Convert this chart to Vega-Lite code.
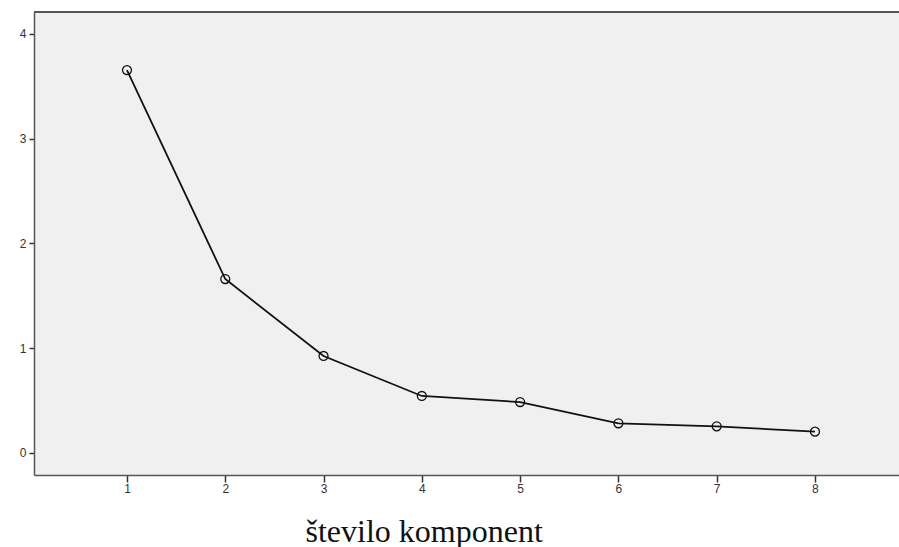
{
  "$schema": "https://vega.github.io/schema/vega-lite/v6.json",
  "width": 865,
  "height": 463,
  "autosize": {"type": "none"},
  "padding": {"left": 34, "top": 12, "right": 0, "bottom": 72},
  "background": "white",
  "config": {
    "view": {"fill": "#f0f0f0", "stroke": null},
    "axis": {
      "grid": false,
      "domainColor": "#555555",
      "domainWidth": 1.5,
      "tickColor": "#333333",
      "tickWidth": 1.5,
      "labelFont": "Liberation Sans",
      "labelFontSize": 12,
      "labelColor": "#333333"
    }
  },
  "data": {
    "values": [
      {"komponenta": 1, "vrednost": 3.655},
      {"komponenta": 2, "vrednost": 1.659},
      {"komponenta": 3, "vrednost": 0.924},
      {"komponenta": 4, "vrednost": 0.542},
      {"komponenta": 5, "vrednost": 0.484},
      {"komponenta": 6, "vrednost": 0.281},
      {"komponenta": 7, "vrednost": 0.252},
      {"komponenta": 8, "vrednost": 0.201}
    ]
  },
  "layer": [
    {
      "mark": {"type": "line", "color": "#111111", "strokeWidth": 1.8},
      "encoding": {
        "x": {
          "field": "komponenta", "type": "quantitative",
          "scale": {"domain": [0.054, 8.855], "nice": false, "zero": false},
          "axis": {
            "values": [1, 2, 3, 4, 5, 6, 7, 8],
            "format": "d",
            "tickSize": 7,
            "labelPadding": 1,
            "title": "število komponent",
            "titleFont": "Liberation Serif",
            "titleFontSize": 32,
            "titleFontWeight": "normal",
            "titleColor": "#111111",
            "titlePadding": 22,
            "titleAnchor": "start",
            "titleX": 271
          }
        },
        "y": {
          "field": "vrednost", "type": "quantitative",
          "scale": {"domain": [-0.213, 4.21], "nice": false, "zero": false},
          "axis": {
            "values": [0, 1, 2, 3, 4],
            "format": "d",
            "tickSize": 5,
            "labelPadding": 3,
            "title": null
          }
        }
      }
    },
    {
      "mark": {"type": "point", "shape": "circle", "filled": false, "color": "#111111", "size": 80, "strokeWidth": 1.3, "opacity": 1},
      "encoding": {
        "x": {"field": "komponenta", "type": "quantitative"},
        "y": {"field": "vrednost", "type": "quantitative"}
      }
    },
    {
      "mark": {"type": "rule", "color": "#555555", "strokeWidth": 2},
      "encoding": {
        "y": {"datum": 4.21, "type": "quantitative"}
      }
    }
  ]
}
